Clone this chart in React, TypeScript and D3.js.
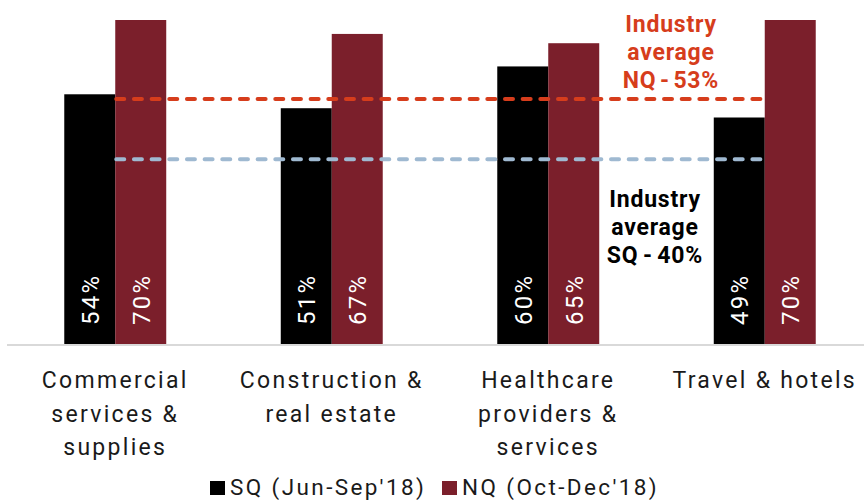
import React from "react";
import * as d3 from "d3";

const categories = [
  ["Commercial", "services &", "supplies"],
  ["Construction &", "real estate"],
  ["Healthcare", "providers &", "services"],
  ["Travel & hotels"],
];
const categoryKeys = ["Commercial", "Construction", "Healthcare", "Travel"];
const series = ["SQ", "NQ"];
const seriesLabels = ["SQ (Jun-Sep'18)", "NQ (Oct-Dec'18)"];
const sqValues = [54, 51, 60, 49];
const nqValues = [70, 67, 65, 70];
const avgNQ = 53;
const avgSQ = 40;
const avgNQLabel = ["Industry", "average", "NQ - 53%"];
const avgSQLabel = ["Industry", "average", "SQ - 40%"];

const W = 864;
const H = 501;
const colors: Record<string, string> = { SQ: "#000000", NQ: "#7b1f2b" };
const FONT = "Roboto, 'Noto Sans', sans-serif";

export default function App() {
  const baseY = 345;
  const x0 = d3
    .scaleBand<string>()
    .domain(categoryKeys)
    .range([7, 873])
    .paddingInner(0.529)
    .paddingOuter(0.2645);
  const x1 = d3.scaleBand<string>().domain(series).range([0, x0.bandwidth()]);
  const y = d3.scaleLinear().domain([0, 70]).range([baseY, 20]);
  const vals: Record<string, number[]> = { SQ: sqValues, NQ: nqValues };

  const lineX1 = (x0(categoryKeys[0]) ?? 0) + (x1("NQ") ?? 0) + 1;
  const lineX2 = (x0(categoryKeys[3]) ?? 0) + (x1("NQ") ?? 0) + 0;

  return (
    <svg
      width={W}
      height={H}
      style={{ position: "absolute", left: 0, top: 0, background: "#fff" }}
      fontFamily={FONT}
    >
      {/* bars */}
      {categoryKeys.map((c, i) =>
        series.map((s) => {
          const v = vals[s][i];
          const bx = (x0(c) ?? 0) + (x1(s) ?? 0);
          const bw = x1.bandwidth();
          return (
            <g key={c + s}>
              <rect x={bx} y={y(v)} width={bw} height={baseY - y(v)} fill={colors[s]} />
              <text
                transform={`translate(${bx + bw / 2 + 1},${baseY - 20}) rotate(-90)`}
                fill="#fff"
                fontSize={24}
                letterSpacing={2.3}
                dominantBaseline="central"
              >
                {v}%
              </text>
            </g>
          );
        })
      )}
      {/* axis */}
      <line x1={7} x2={W} y1={baseY} y2={baseY} stroke="#d9d9d9" strokeWidth={2} />
      {/* average lines */}
      <line
        x1={lineX1}
        x2={lineX2}
        y1={y(avgNQ)}
        y2={y(avgNQ)}
        stroke="#d63d1c"
        strokeWidth={4}
        strokeDasharray="8 9.67"
        strokeLinecap="round"
      />
      <line
        x1={lineX1}
        x2={lineX2}
        y1={y(avgSQ)}
        y2={y(avgSQ)}
        stroke="#9fb9d1"
        strokeWidth={4}
        strokeDasharray="8 9.67"
        strokeLinecap="round"
      />
      {/* annotations */}
      {avgNQLabel.map((t, i) => (
        <text
          key={"n" + i}
          x={671}
          y={32 + i * 28}
          textAnchor="middle"
          fill="#d63d1c"
          fontWeight="bold"
          fontSize={23}
          letterSpacing={0.8}
          wordSpacing={i === 2 ? -3 : 0}
        >
          {t}
        </text>
      ))}
      {avgSQLabel.map((t, i) => (
        <text
          key={"s" + i}
          x={655}
          y={207 + i * 28}
          textAnchor="middle"
          fill="#000"
          fontWeight="bold"
          fontSize={23}
          letterSpacing={0.8}
          wordSpacing={i === 2 ? -2 : 0}
        >
          {t}
        </text>
      ))}
      {/* category labels */}
      {categories.map((lines, i) => {
        const cx = (x0(categoryKeys[i]) ?? 0) + x0.bandwidth() / 2;
        return lines.map((t, j) => (
          <text
            key={i + "-" + j}
            x={cx}
            y={388 + j * 33.5}
            textAnchor="middle"
            fill="#1a1a1a"
            fontSize={23}
            letterSpacing={2.3}
          >
            {t}
          </text>
        ));
      })}
      {/* legend */}
      {series.map((s, i) => {
        const lx = i === 0 ? 210 : 442;
        return (
          <g key={"lg" + s}>
            <rect x={lx} y={481} width={15} height={14} fill={colors[s]} />
            <text x={lx + 20} y={495} fill="#1a1a1a" fontSize={22.5} letterSpacing={2.4}>
              {seriesLabels[i]}
            </text>
          </g>
        );
      })}
    </svg>
  );
}
